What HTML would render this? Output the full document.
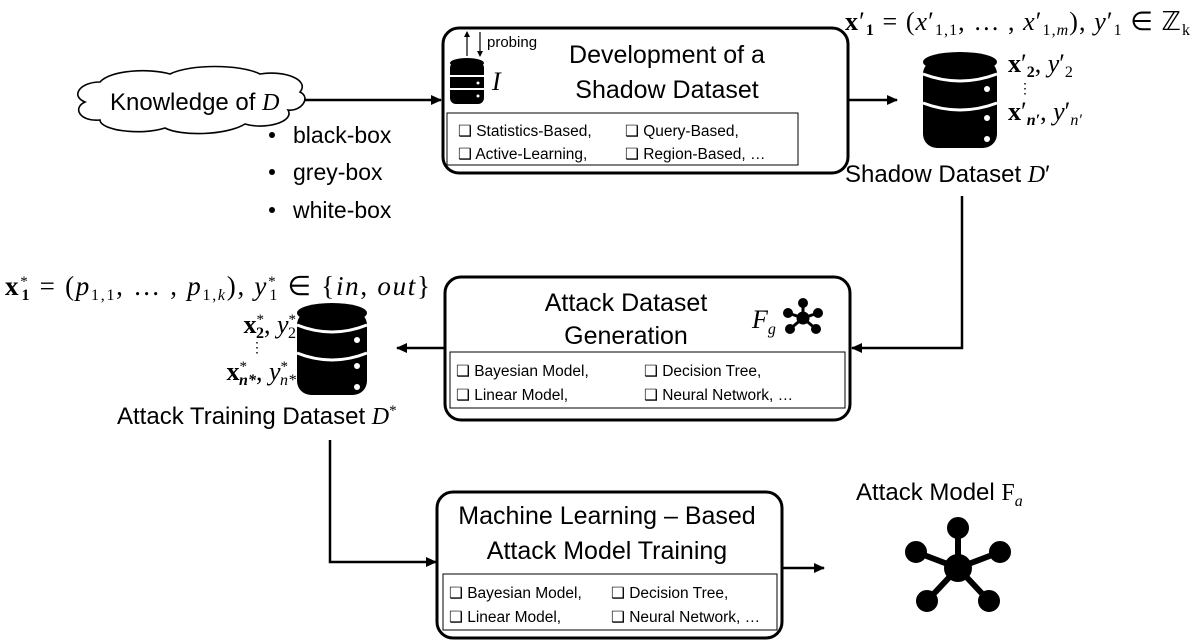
<!DOCTYPE html>
<html><head><meta charset="utf-8"><style>
body{margin:0;background:#fff}
svg{display:block;font-family:"Liberation Sans",sans-serif}
.s{font-family:"Liberation Serif",serif}
</style></head><body>
<svg width="1196" height="642" viewBox="0 0 1196 642">
<defs>
<marker id="a" markerWidth="11" markerHeight="10" refX="10" refY="5" orient="auto" markerUnits="userSpaceOnUse"><path d="M0,0 L11,5 L0,10 z" fill="#000"/></marker>
<marker id="b" markerWidth="6" markerHeight="6" refX="5" refY="3" orient="auto" markerUnits="userSpaceOnUse"><path d="M0,0 L6,3 L0,6 z" fill="#000"/></marker>
</defs>

<!-- Cloud -->
<path d="M100,82 C110,70 150,68 170,74 C190,64 240,64 260,74 C285,70 310,80 300,92 C312,98 300,112 288,110 C295,122 265,130 245,124 C225,136 180,136 165,128 C140,136 100,130 100,120 C80,122 72,108 85,102 C70,96 80,82 100,82 Z" fill="#fff" stroke="#000" stroke-width="1.6"/>
<text x="110" y="110" font-size="24">Knowledge of <tspan class="s" font-style="italic">D</tspan></text>
<g font-size="23">
<circle cx="272" cy="135" r="3"/><text x="293" y="143">black-box</text>
<circle cx="272" cy="172" r="3"/><text x="293" y="180">grey-box</text>
<circle cx="272" cy="210" r="3"/><text x="293" y="218">white-box</text>
</g>
<line x1="304" y1="100" x2="441" y2="100" stroke="#000" stroke-width="2.5" marker-end="url(#a)"/>

<!-- Box1 -->
<rect x="443" y="28" width="405" height="145" rx="16" fill="#fff" stroke="#000" stroke-width="3"/>
<rect x="447" y="113" width="351" height="52" fill="none" stroke="#000" stroke-width="1"/>
<text x="667" y="63" font-size="25" text-anchor="middle">Development of a</text>
<text x="667" y="98" font-size="25" text-anchor="middle">Shadow Dataset</text>
<g font-size="15.5">
<text x="458" y="136">❑ Statistics-Based,</text><text x="625" y="136">❑ Query-Based,</text>
<text x="458" y="159">❑ Active-Learning,</text><text x="625" y="159">❑ Region-Based, …</text>
</g>
<g transform="translate(467,58)">
<rect x="-17" y="4" width="34" height="42" rx="6"/>
<ellipse cx="0" cy="5" rx="17" ry="5"/>
<line x1="-17" y1="18" x2="17" y2="18" stroke="#fff" stroke-width="2"/>
<line x1="-17" y1="31" x2="17" y2="31" stroke="#fff" stroke-width="2"/>
<circle cx="11" cy="25" r="1.5" fill="#fff"/><circle cx="11" cy="38" r="1.5" fill="#fff"/>
</g>
<line x1="467" y1="56" x2="467" y2="32" stroke="#000" stroke-width="1.2" marker-end="url(#b)"/>
<line x1="480" y1="32" x2="480" y2="56" stroke="#000" stroke-width="1.2" marker-end="url(#b)"/>
<text x="487" y="47" font-size="15">probing</text>
<text x="492" y="90" font-size="26" class="s" font-style="italic">I</text>

<line x1="848" y1="100" x2="897" y2="100" stroke="#000" stroke-width="2.5" marker-end="url(#a)"/>

<!-- Shadow DB -->
<g transform="translate(960,52)">
<rect x="-37" y="8" width="74" height="88" rx="14"/>
<ellipse cx="0" cy="10" rx="37" ry="10"/>
<path d="M-37,22 Q0,36 37,22" stroke="#fff" stroke-width="3" fill="none"/>
<path d="M-37,51 Q0,65 37,51" stroke="#fff" stroke-width="3" fill="none"/>
<circle cx="27" cy="37" r="3" fill="#fff"/><circle cx="27" cy="66" r="3" fill="#fff"/><circle cx="27" cy="87" r="3" fill="#fff"/>
</g>
<text x="845" y="30" font-size="26" class="s" textLength="345" lengthAdjust="spacing"><tspan font-weight="bold">x</tspan>′<tspan font-size="16" font-weight="bold" dy="5">1</tspan><tspan dy="-5"> = (</tspan><tspan font-style="italic">x</tspan>′<tspan font-size="16" dy="5">1,1</tspan><tspan dy="-5">, … , </tspan><tspan font-style="italic">x</tspan>′<tspan font-size="16" dy="5">1,<tspan font-style="italic">m</tspan></tspan><tspan dy="-5">), </tspan><tspan font-style="italic">y</tspan>′<tspan font-size="16" dy="5">1</tspan><tspan dy="-5"> ∈ ℤ</tspan><tspan font-size="16" dy="5">k</tspan></text>
<text x="1008" y="72" font-size="26" class="s"><tspan font-weight="bold">x</tspan>′<tspan font-size="16" font-weight="bold" dy="5">2</tspan><tspan dy="-5">, </tspan><tspan font-style="italic">y</tspan>′<tspan font-size="16" dy="5">2</tspan></text>
<text x="1018" y="93" font-size="14">⋮</text>
<text x="1008" y="120" font-size="26" class="s"><tspan font-weight="bold">x</tspan>′<tspan font-size="16" font-weight="bold" font-style="italic" dy="5">n′</tspan><tspan dy="-5">, </tspan><tspan font-style="italic">y</tspan>′<tspan font-size="16" font-style="italic" dy="5">n′</tspan></text>
<text x="845" y="182" font-size="24">Shadow Dataset <tspan class="s" font-style="italic">D</tspan>′</text>

<polyline points="962,196 962,348 852,348" fill="none" stroke="#000" stroke-width="2.5" marker-end="url(#a)"/>

<!-- Box2 -->
<rect x="445" y="277" width="405" height="143" rx="16" fill="#fff" stroke="#000" stroke-width="3"/>
<rect x="450" y="352" width="395" height="56" fill="none" stroke="#000" stroke-width="1"/>
<text x="626" y="311" font-size="25" text-anchor="middle">Attack Dataset</text>
<text x="626" y="344" font-size="25" text-anchor="middle">Generation</text>
<g font-size="15.5">
<text x="456" y="376">❑ Bayesian Model,</text><text x="644" y="376">❑ Decision Tree,</text>
<text x="456" y="400">❑ Linear Model,</text><text x="644" y="400">❑ Neural Network, …</text>
</g>
<text x="752" y="328" font-size="26" class="s" font-style="italic">F<tspan font-size="16" dy="6">g</tspan></text>
<g transform="translate(803,318)" stroke="#000" stroke-width="3">
<line x1="0" y1="0" x2="0" y2="-15"/><line x1="0" y1="0" x2="-15" y2="-5"/><line x1="0" y1="0" x2="15" y2="-5"/><line x1="0" y1="0" x2="-13" y2="11"/><line x1="0" y1="0" x2="13" y2="11"/>
<circle r="5"/><circle cy="-15" r="3.5"/><circle cx="-15" cy="-5" r="3.5"/><circle cx="15" cy="-5" r="3.5"/><circle cx="-13" cy="11" r="3.5"/><circle cx="13" cy="11" r="3.5"/>
</g>
<line x1="445" y1="348" x2="397" y2="348" stroke="#000" stroke-width="2.5" marker-end="url(#a)"/>

<!-- Attack DB -->
<g transform="translate(332,303)">
<rect x="-35" y="8" width="70" height="84" rx="14"/>
<ellipse cx="0" cy="10" rx="35" ry="10"/>
<path d="M-35,22 Q0,36 35,22" stroke="#fff" stroke-width="3" fill="none"/>
<path d="M-35,50 Q0,64 35,50" stroke="#fff" stroke-width="3" fill="none"/>
<circle cx="25" cy="37" r="3" fill="#fff"/><circle cx="25" cy="63" r="3" fill="#fff"/><circle cx="25" cy="84" r="3" fill="#fff"/>
</g>
<text x="5" y="295" font-size="27" class="s" textLength="425" lengthAdjust="spacing"><tspan font-weight="bold">x</tspan><tspan font-size="15" dy="-9">*</tspan><tspan font-size="16" font-weight="bold" dx="-8" dy="14">1</tspan><tspan dy="-5"> = (</tspan><tspan font-style="italic">p</tspan><tspan font-size="16" dy="5">1,1</tspan><tspan dy="-5">, … , </tspan><tspan font-style="italic">p</tspan><tspan font-size="16" dy="5">1,<tspan font-style="italic">k</tspan></tspan><tspan dy="-5">), </tspan><tspan font-style="italic">y</tspan><tspan font-size="15" dy="-9">*</tspan><tspan font-size="16" dx="-8" dy="14">1</tspan><tspan dy="-5"> ∈ {</tspan><tspan font-style="italic">in</tspan>, <tspan font-style="italic">out</tspan>}</text>
<text x="296" y="333" font-size="26" class="s" text-anchor="end"><tspan font-weight="bold">x</tspan><tspan font-size="15" dy="-9">*</tspan><tspan font-size="16" font-weight="bold" dx="-8" dy="14">2</tspan><tspan dy="-5">, </tspan><tspan font-style="italic">y</tspan><tspan font-size="15" dy="-9">*</tspan><tspan font-size="16" dx="-8" dy="14">2</tspan></text>
<text x="250" y="352" font-size="14">⋮</text>
<text x="296" y="380" font-size="26" class="s" text-anchor="end"><tspan font-weight="bold">x</tspan><tspan font-size="15" dy="-9">*</tspan><tspan font-size="16" font-weight="bold" font-style="italic" dx="-8" dy="14">n*</tspan><tspan dy="-5">, </tspan><tspan font-style="italic">y</tspan><tspan font-size="15" dy="-9">*</tspan><tspan font-size="16" font-style="italic" dx="-8" dy="14">n*</tspan></text>
<text x="117" y="424" font-size="24">Attack Training Dataset <tspan class="s" font-style="italic">D</tspan><tspan class="s" font-size="15" dy="-9">*</tspan></text>

<polyline points="330,440 330,562 436,562" fill="none" stroke="#000" stroke-width="2.5" marker-end="url(#a)"/>

<!-- Box3 -->
<rect x="437" y="492" width="345" height="146" rx="16" fill="#fff" stroke="#000" stroke-width="3"/>
<rect x="443" y="574" width="334" height="56" fill="none" stroke="#000" stroke-width="1"/>
<text x="607" y="524" font-size="25" text-anchor="middle">Machine Learning – Based</text>
<text x="607" y="559" font-size="25" text-anchor="middle">Attack Model Training</text>
<g font-size="15.5">
<text x="449" y="598">❑ Bayesian Model,</text><text x="611" y="598">❑ Decision Tree,</text>
<text x="449" y="622">❑ Linear Model,</text><text x="611" y="622">❑ Neural Network, …</text>
</g>
<line x1="782" y1="568" x2="824" y2="568" stroke="#000" stroke-width="2.5" marker-end="url(#a)"/>
<text x="856" y="500" font-size="24">Attack Model <tspan class="s">F</tspan><tspan class="s" font-style="italic" font-size="16" dy="6">a</tspan></text>
<g transform="translate(958,568)" stroke="#000" stroke-width="6">
<line x1="0" y1="0" x2="0" y2="-40"/><line x1="0" y1="0" x2="-42" y2="-16"/><line x1="0" y1="0" x2="42" y2="-16"/><line x1="0" y1="0" x2="-31" y2="33"/><line x1="0" y1="0" x2="31" y2="33"/>
<circle r="11"/><circle cy="-40" r="8"/><circle cx="-42" cy="-16" r="8"/><circle cx="42" cy="-16" r="8"/><circle cx="-31" cy="33" r="8"/><circle cx="31" cy="33" r="8"/>
</g>
</svg>
</body></html>
